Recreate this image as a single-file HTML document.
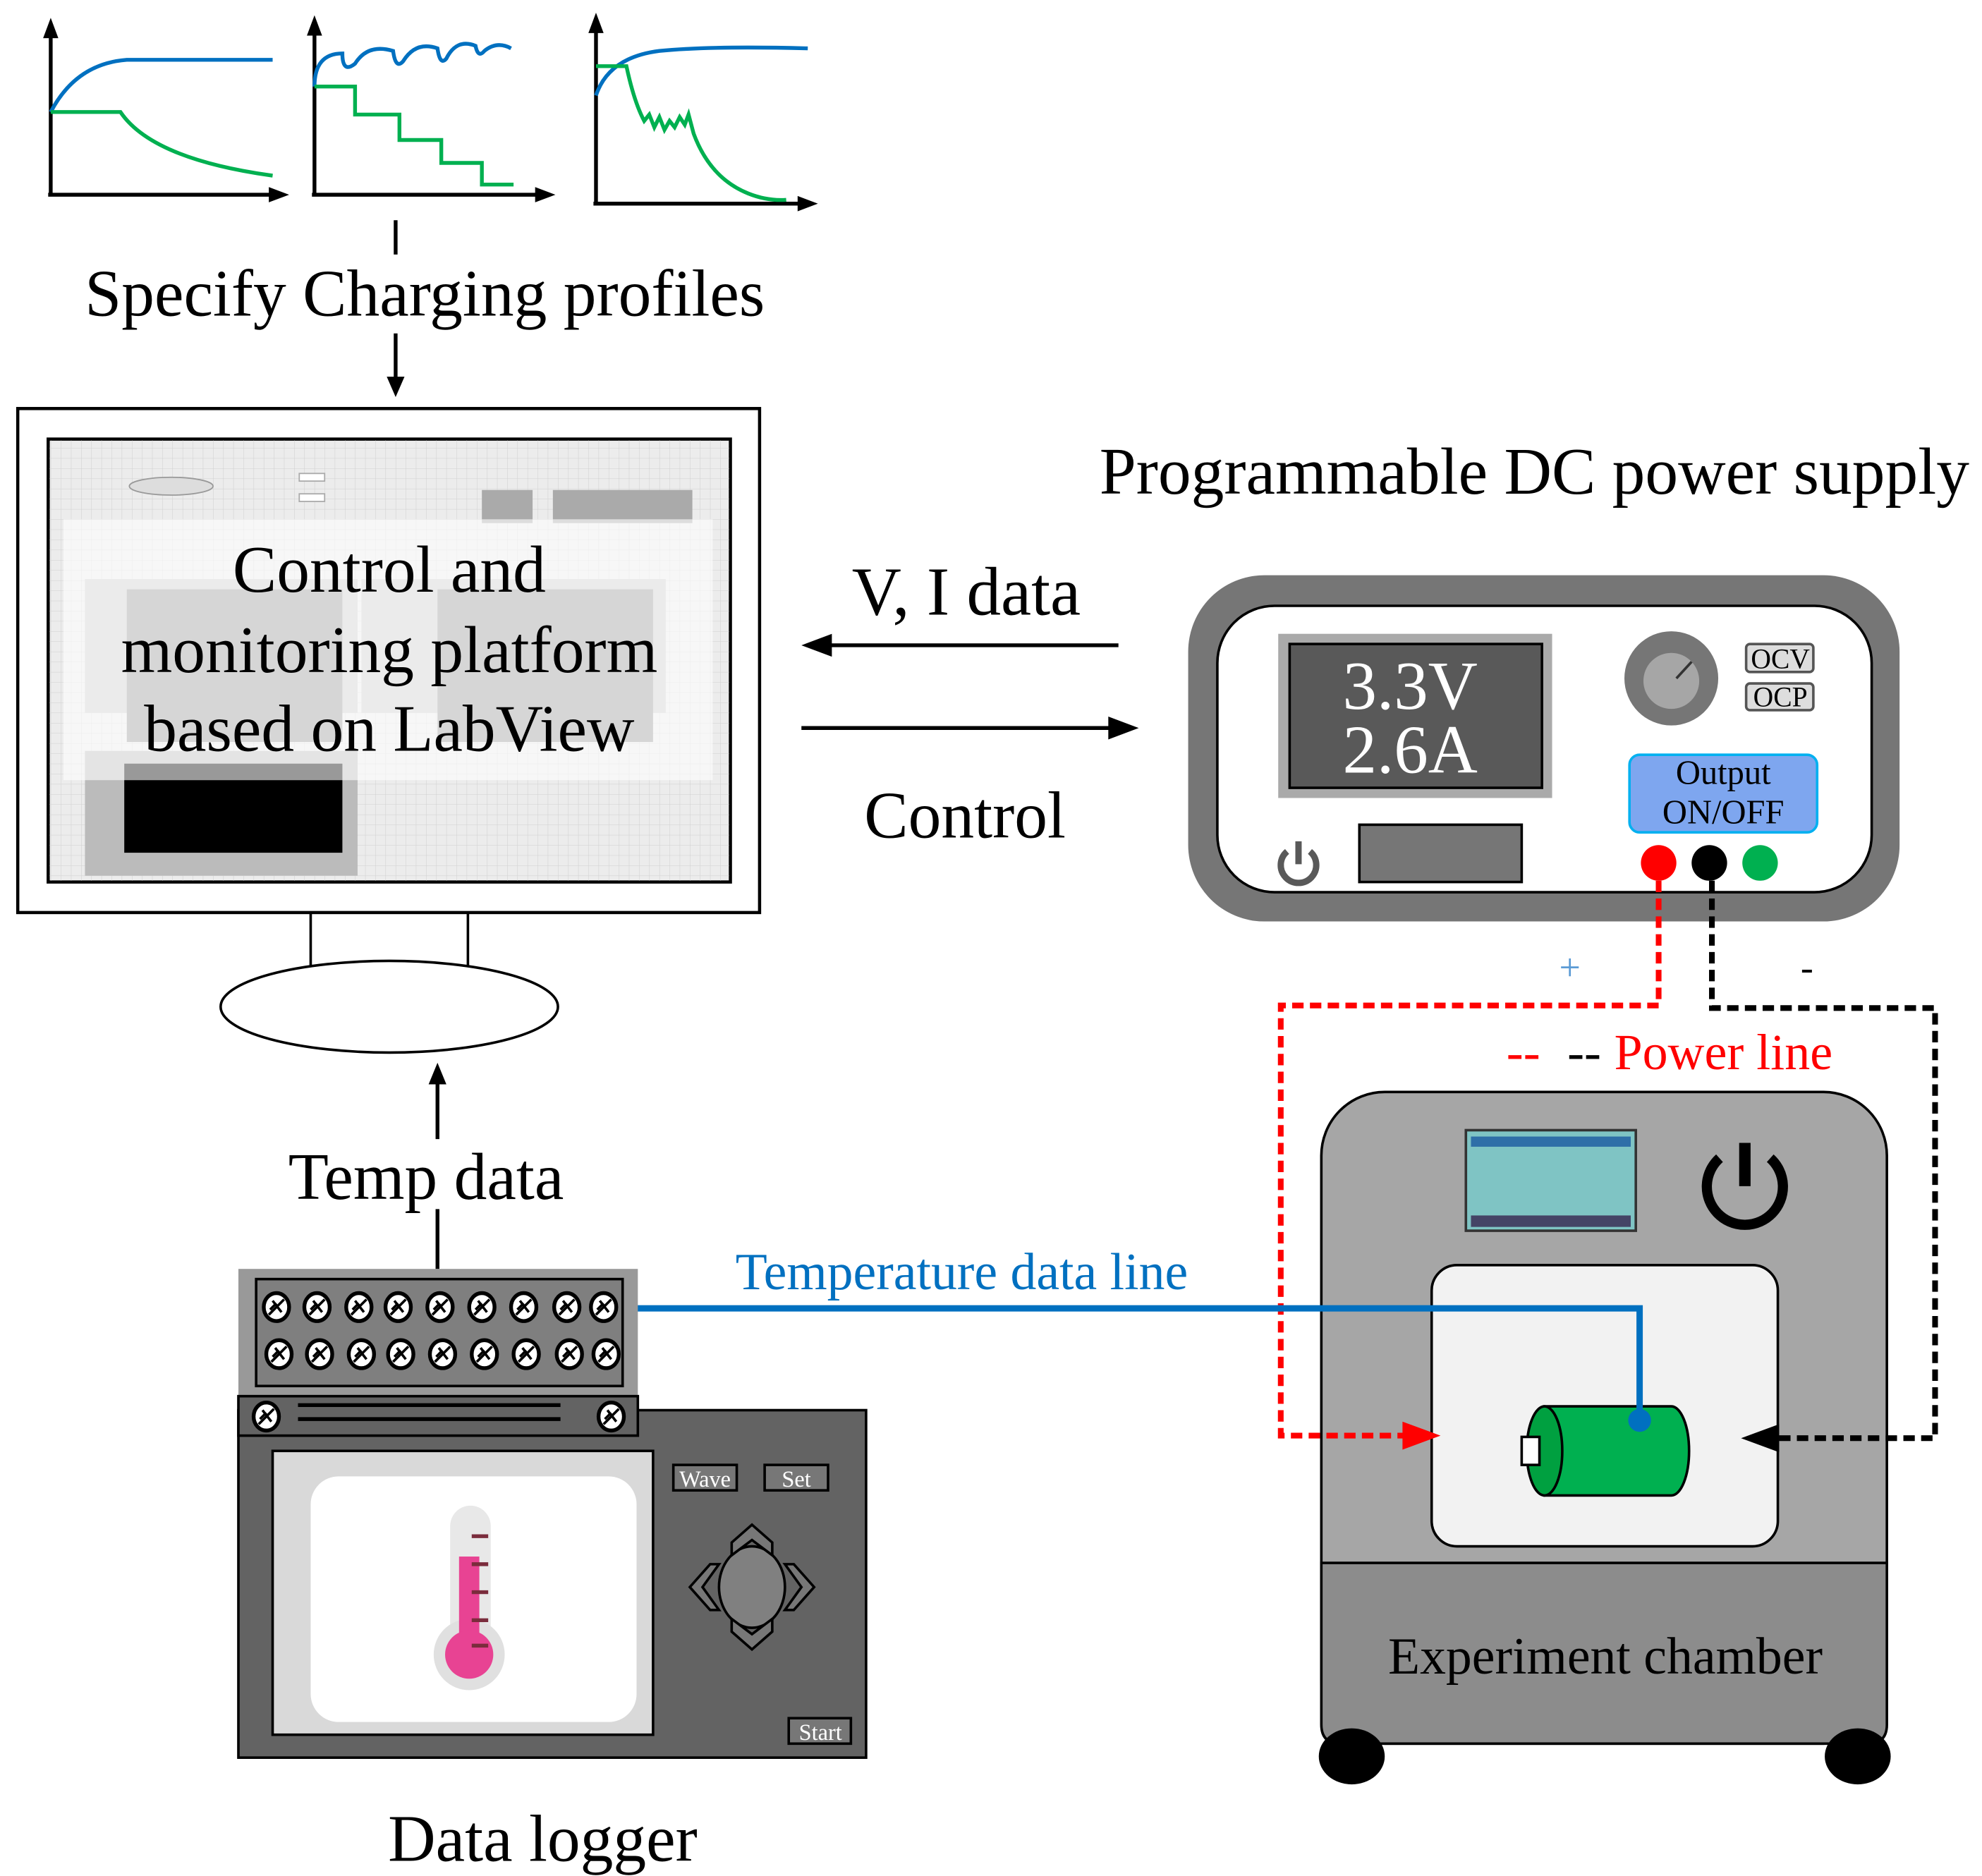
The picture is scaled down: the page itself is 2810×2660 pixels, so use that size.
<!DOCTYPE html>
<html><head><meta charset="utf-8"><style>html,body{margin:0;padding:0;background:#fff}svg{display:block}</style></head><body>
<svg width="2810" height="2660" viewBox="0 0 1563 1474" preserveAspectRatio="none" xmlns="http://www.w3.org/2000/svg" font-family="Liberation Serif, serif">
<defs>
<pattern id="grid" width="8" height="8" patternUnits="userSpaceOnUse"><path d="M8,0 L0,0 0,8" fill="none" stroke="#d0d0d0" stroke-width="0.6"/></pattern>
<g id="screw"><ellipse cx="0" cy="0" rx="10" ry="11" fill="#fff" stroke="#000" stroke-width="3"/><path d="M-6,6 L6,-6 M-3,-5 L4,4 M-5,2 L0,-3" stroke="#000" stroke-width="2"/></g>
</defs>

<!-- charts -->
<g fill="none" stroke-width="3">
<path d="M40,153 V25 M38,153 H218" stroke="#000"/>
<path d="M40,88 Q60,50 100,47 H215" stroke="#0070c0"/>
<path d="M40,88 H95 Q120,125 215,138" stroke="#00b050"/>
<path d="M248,153 V22 M246,153 H428" stroke="#000"/>
<path d="M248,68 Q248,42 270,42 Q270,58 280,50 Q290,34 310,40 Q312,55 318,48 Q328,32 345,38 Q347,52 352,46 Q360,30 375,36 Q377,46 382,40 Q392,32 403,38" stroke="#0070c0"/>
<path d="M248,68 H280 V90 H315 V110 H348 V128 H380 V145 H405" stroke="#00b050"/>
<path d="M470,160 V18 M468,160 H636" stroke="#000"/>
<path d="M470,75 Q480,45 520,40 Q560,36 637,38" stroke="#0070c0"/>
<path d="M470,52 H494 Q500,80 508,95 L512,90 L516,100 L520,92 L524,102 L528,95 L532,100 L536,92 L540,98 L543,90 L547,105 Q560,140 590,152 Q605,158 620,157" stroke="#00b050"/>
</g>
<path d="M40,14 L34,30 L46,30 z M228,153 L212,147 L212,159 z M248,12 L242,28 L254,28 z M438,153 L422,147 L422,159 z M470,10 L464,26 L476,26 z M645,160 L629,154 L629,166 z" fill="#000"/>

<line x1="312" y1="173" x2="312" y2="200" stroke="#000" stroke-width="3"/>
<text x="335" y="248" font-size="52" text-anchor="middle">Specify Charging profiles</text>
<line x1="312" y1="262" x2="312" y2="300" stroke="#000" stroke-width="3"/>
<path d="M312,312 L305,296 L319,296 z" fill="#000"/>

<!-- monitor -->
<rect x="14" y="321" width="585" height="396" fill="#fff" stroke="#000" stroke-width="2.5"/>
<rect x="38" y="345" width="538" height="348" fill="#ececec" stroke="#000" stroke-width="2.5"/>
<rect x="39" y="346" width="536" height="346" fill="url(#grid)"/>
<ellipse cx="135" cy="382" rx="33" ry="7" fill="#ddd" stroke="#999"/>
<rect x="236" y="372" width="20" height="6" fill="#fff" stroke="#aaa"/>
<rect x="236" y="388" width="20" height="6" fill="#fff" stroke="#aaa"/>
<rect x="380" y="385" width="40" height="26" fill="#aaa"/>
<rect x="436" y="385" width="110" height="26" fill="#aaa"/>
<rect x="67" y="455" width="215" height="105" fill="#ccc"/>
<rect x="100" y="463" width="170" height="120" fill="#999"/>
<rect x="285" y="455" width="240" height="105" fill="#ccc"/>
<rect x="345" y="463" width="170" height="120" fill="#999"/>
<rect x="67" y="590" width="215" height="98" fill="#bbb"/>
<rect x="98" y="600" width="172" height="70" fill="#000"/>
<rect x="50" y="408" width="512" height="205" fill="#fff" fill-opacity="0.6"/>
<text x="307" y="465" font-size="52" text-anchor="middle">Control and</text>
<text x="307" y="528" font-size="52" text-anchor="middle">monitoring platform</text>
<text x="307" y="590" font-size="52" text-anchor="middle">based on LabView</text>
<path d="M245,717 V760 M369,717 V760" stroke="#000" stroke-width="2"/>
<ellipse cx="307" cy="791" rx="133" ry="36" fill="#fff" stroke="#000" stroke-width="2"/>

<!-- temp data arrow -->
<line x1="345" y1="895" x2="345" y2="850" stroke="#000" stroke-width="3"/>
<path d="M345,835 L338,852 L352,852 z" fill="#000"/>
<text x="336" y="942" font-size="52" text-anchor="middle">Temp data</text>
<line x1="345" y1="950" x2="345" y2="997" stroke="#000" stroke-width="3"/>

<!-- V,I / Control -->
<text x="762" y="483" font-size="54" text-anchor="middle">V, I data</text>
<line x1="882" y1="507" x2="650" y2="507" stroke="#000" stroke-width="3"/>
<path d="M632,507 L656,498 L656,516 z" fill="#000"/>
<line x1="632" y1="572" x2="880" y2="572" stroke="#000" stroke-width="3"/>
<path d="M898,572 L874,563 L874,581 z" fill="#000"/>
<text x="761" y="658" font-size="52" text-anchor="middle">Control</text>

<text x="1210" y="388" font-size="52" text-anchor="middle">Programmable DC power supply</text>

<!-- power supply -->
<rect x="937" y="452" width="561" height="272" rx="60" fill="#767676"/>
<rect x="960" y="476" width="516" height="225" rx="45" fill="#fff" stroke="#000" stroke-width="2"/>
<rect x="1008" y="498" width="216" height="129" fill="#aaa"/>
<rect x="1017" y="506" width="199" height="113" fill="#595959" stroke="#000" stroke-width="2"/>
<text x="1112" y="557" font-size="54" fill="#fff" text-anchor="middle">3.3V</text>
<text x="1112" y="607" font-size="54" fill="#fff" text-anchor="middle">2.6A</text>
<circle cx="1318" cy="533" r="37" fill="#767676"/>
<circle cx="1318" cy="535" r="22" fill="#a6a6a6"/>
<line x1="1322" y1="533" x2="1334" y2="520" stroke="#333" stroke-width="2"/>
<rect x="1377" y="506" width="53" height="22" rx="3" fill="#ddd" stroke="#555" stroke-width="2"/>
<rect x="1377" y="537" width="53" height="21" rx="3" fill="#ddd" stroke="#555" stroke-width="2"/>
<text x="1404" y="525" font-size="22" text-anchor="middle">OCV</text>
<text x="1404" y="555" font-size="22" text-anchor="middle">OCP</text>
<rect x="1285" y="593" width="148" height="61" rx="8" fill="#7ea6ef" stroke="#00b0f0" stroke-width="2"/>
<text x="1359" y="616" font-size="27" text-anchor="middle">Output</text>
<text x="1359" y="647" font-size="27" text-anchor="middle">ON/OFF</text>
<path d="M1015,669 A14,14 0 1 0 1033,669" fill="none" stroke="#595959" stroke-width="5"/>
<line x1="1024" y1="661" x2="1024" y2="679" stroke="#595959" stroke-width="5"/>
<rect x="1072" y="648" width="128" height="45" fill="#767676" stroke="#000" stroke-width="2"/>
<circle cx="1308" cy="678" r="14" fill="#f00"/>
<circle cx="1348" cy="678" r="14" fill="#000"/>
<circle cx="1388" cy="678" r="14" fill="#00b050"/>

<!-- chamber -->
<rect x="1042" y="858" width="446" height="512" rx="50" fill="#a6a6a6" stroke="#000" stroke-width="2"/>
<path d="M1042,1228 H1488 V1355 Q1488,1370 1473,1370 H1057 Q1042,1370 1042,1355 Z" fill="#8c8c8c" stroke="#000" stroke-width="2"/>
<ellipse cx="1066" cy="1380" rx="26" ry="22" fill="#000"/>
<ellipse cx="1465" cy="1380" rx="26" ry="22" fill="#000"/>
<rect x="1156" y="888" width="134" height="79" fill="#7fc4c4" stroke="#333" stroke-width="2"/>
<rect x="1160" y="893" width="126" height="8" fill="#2f6fa8"/>
<rect x="1160" y="955" width="126" height="9" fill="#446"/>
<path d="M1356,910 A30,30 0 1 0 1396,910" fill="none" stroke="#000" stroke-width="8"/>
<line x1="1376" y1="898" x2="1376" y2="932" stroke="#000" stroke-width="9"/>
<rect x="1129" y="994" width="273" height="221" rx="20" fill="#f2f2f2" stroke="#000" stroke-width="2"/>
<path d="M1218,1105 H1318 A14,35 0 0 1 1318,1175 H1218 Z" fill="#00b050" stroke="#000" stroke-width="2"/>
<ellipse cx="1218" cy="1140" rx="14" ry="35" fill="#00a040" stroke="#000" stroke-width="2"/>
<rect x="1200" y="1129" width="14" height="22" fill="#fff" stroke="#000" stroke-width="2"/>
<text x="1266" y="1315" font-size="41" text-anchor="middle">Experiment chamber</text>

<!-- power lines (on top) -->
<path d="M1308,692 V790 H1010 V1128 H1110" fill="none" stroke="#f00" stroke-width="4.5" stroke-dasharray="9,5"/>
<path d="M1136,1128 L1106,1117 L1106,1139 z" fill="#f00"/>
<path d="M1350,692 V792 H1526 V1130 H1400" fill="none" stroke="#000" stroke-width="4.5" stroke-dasharray="9,5"/>
<path d="M1373,1130 L1403,1119 L1403,1141 z" fill="#000"/>
<text x="1238" y="770" font-size="30" fill="#5b9bd5" text-anchor="middle">+</text>
<text x="1425" y="770" font-size="30" text-anchor="middle">-</text>
<text x="1188" y="840" font-size="40" fill="#f00">--</text>
<text x="1236" y="840" font-size="40">--</text>
<text x="1273" y="840" font-size="40" fill="#f00">Power line</text>

<!-- temperature line -->
<text x="580" y="1013" font-size="41" fill="#0070c0">Temperature data line</text>
<path d="M477,1028 H1293 V1116" fill="none" stroke="#0070c0" stroke-width="5"/>
<circle cx="1293" cy="1116" r="9" fill="#0070c0"/>

<!-- data logger -->
<rect x="188" y="1108" width="495" height="273" fill="#636363" stroke="#000" stroke-width="2"/>
<rect x="188" y="997" width="315" height="100" fill="#999"/>
<rect x="202" y="1005" width="289" height="84" fill="#7f7f7f" stroke="#000" stroke-width="2"/>
<rect x="188" y="1097" width="315" height="31" fill="#636363" stroke="#000" stroke-width="2"/>
<g>
<use href="#screw" x="218" y="1027"/><use href="#screw" x="250" y="1027"/><use href="#screw" x="283" y="1027"/><use href="#screw" x="314" y="1027"/><use href="#screw" x="347" y="1027"/><use href="#screw" x="380" y="1027"/><use href="#screw" x="413" y="1027"/><use href="#screw" x="447" y="1027"/><use href="#screw" x="476" y="1027"/>
<use href="#screw" x="220" y="1064"/><use href="#screw" x="252" y="1064"/><use href="#screw" x="285" y="1064"/><use href="#screw" x="316" y="1064"/><use href="#screw" x="349" y="1064"/><use href="#screw" x="382" y="1064"/><use href="#screw" x="415" y="1064"/><use href="#screw" x="449" y="1064"/><use href="#screw" x="478" y="1064"/>
<use href="#screw" x="210" y="1113"/><use href="#screw" x="482" y="1113"/>
</g>
<path d="M235,1104 H442 M235,1115 H442" stroke="#000" stroke-width="3"/>
<rect x="215" y="1140" width="300" height="223" fill="#d9d9d9" stroke="#000" stroke-width="2"/>
<rect x="245" y="1160" width="257" height="193" rx="22" fill="#fff"/>
<rect x="355" y="1183" width="32" height="120" rx="16" fill="#e8e8e8"/>
<circle cx="370" cy="1300" r="28" fill="#e0e0e0"/>
<rect x="362" y="1223" width="16" height="80" fill="#e84393"/>
<circle cx="370" cy="1300" r="19" fill="#e84393"/>
<path d="M372,1207 H385 M372,1229 H385 M372,1251 H385 M372,1273 H385 M372,1293 H385" stroke="#7a2c3c" stroke-width="3"/>
<rect x="531" y="1151" width="50" height="20" fill="#777" stroke="#000" stroke-width="2"/>
<rect x="603" y="1151" width="50" height="20" fill="#777" stroke="#000" stroke-width="2"/>
<rect x="622" y="1350" width="49" height="20" fill="#777" stroke="#000" stroke-width="2"/>
<text x="556" y="1168" font-size="18" fill="#fff" text-anchor="middle">Wave</text>
<text x="628" y="1168" font-size="18" fill="#fff" text-anchor="middle">Set</text>
<text x="647" y="1367" font-size="18" fill="#fff" text-anchor="middle">Start</text>
<ellipse cx="593" cy="1247" rx="26" ry="32" fill="#808080" stroke="#000" stroke-width="2"/>
<path d="M577,1222 V1212 L593,1198 L609,1212 V1222 L593,1210 Z M577,1272 V1282 L593,1296 L609,1282 V1272 L593,1284 Z M567,1229 H560 L544,1247 L560,1265 H567 L554,1247 Z M619,1229 H626 L642,1247 L626,1265 H619 L632,1247 Z" fill="#777" stroke="#000" stroke-width="2"/>
<text x="428" y="1462" font-size="52" text-anchor="middle">Data logger</text>
</svg>
</body></html>
